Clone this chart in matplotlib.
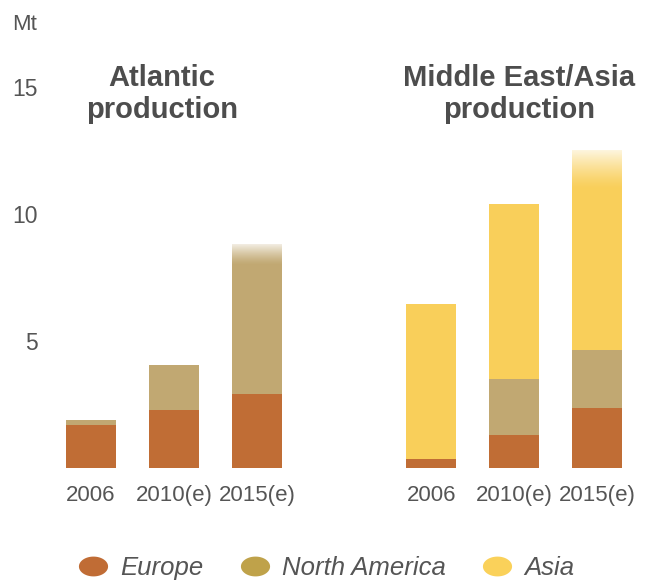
import numpy as np
import matplotlib
matplotlib.use("Agg")
import matplotlib.pyplot as plt
from matplotlib.path import Path
from matplotlib.lines import Line2D
from matplotlib.colors import to_rgb

plt.rcParams['font.family'] = ['Liberation Sans', 'DejaVu Sans']

# production in Mt, Atlantic group then Middle East/Asia group
years = ['2006', '2010(e)', '2015(e)', '2006', '2010(e)', '2015(e)']
europe = [1.7, 2.3, 2.9, 0.35, 1.3, 2.35]
north_america = [0.2, 1.75, 5.9, 0.0, 2.2, 2.3]
asia = [0.0, 0.0, 0.0, 6.1, 6.9, 7.85]
estimated_top = [False, False, True, False, False, True]

x = np.array([0, 1, 2, 4.1, 5.1, 6.1])
width = 0.6

c_eu = '#c06d35'
c_na = '#c1a872'
c_as = '#f9cf5a'
txt = '#555555'

fig = plt.figure(figsize=(6.53, 5.82), dpi=100)
ax = fig.add_axes([50 / 653, 114 / 582, 595 / 653, 428 / 582])

eu = np.array(europe)
na = np.array(north_america)
az = np.array(asia)
ax.bar(x, eu, width, color=c_eu)
ax.bar(x, na, width, bottom=eu, color=c_na)
ax.bar(x, az, width, bottom=eu + na, color=c_as)

# fade the top of the estimated bars to white
fade = {2: 0.8, 5: 1.5}
tops = eu + na + az
for i, est in enumerate(estimated_top):
    if not est:
        continue
    col = c_as if az[i] > 0 else c_na
    r, g, b = to_rgb(col)
    n = 64
    t = np.linspace(0, 1, n)[:, None]
    k = 0.8 * t ** 1.3
    grad = np.zeros((n, 1, 3))
    grad[..., 0] = r + (1 - r) * k
    grad[..., 1] = g + (1 - g) * k
    grad[..., 2] = b + (1 - b) * k
    ax.imshow(grad, extent=(x[i] - width / 2, x[i] + width / 2, tops[i] - fade[i], tops[i]),
              origin='lower', aspect='auto', interpolation='bilinear', zorder=3)

ax.set_xlim((50 - 91) / 83, (645 - 91) / 83)
ax.set_ylim(0, 428 / 25.4)
ax.set_xticks(x)
ax.set_xticklabels(years)
ax.set_yticks([5, 10, 15])
ax.tick_params(axis='x', length=0, pad=12, labelsize=16, labelcolor=txt)
ax.tick_params(axis='y', length=0, pad=9, labelsize=16.5, labelcolor=txt)
for s in ax.spines.values():
    s.set_visible(False)

fig.text(12 / 653, 1 - 24 / 582, 'Mt', fontsize=16, color=txt, va='center', ha='left')
fig.text(162 / 653, 1 - 94 / 582, 'Atlantic\nproduction', fontsize=21, fontweight='bold',
         color='#4d4d4d', ha='center', va='center', linespacing=1.2)
fig.text(519 / 653, 1 - 94 / 582, 'Middle East/Asia\nproduction', fontsize=21, fontweight='bold',
         color='#4d4d4d', ha='center', va='center', linespacing=1.2)

# elliptical legend markers
th = np.linspace(0, 2 * np.pi, 60)
ellipse = Path(np.column_stack([np.cos(th), 0.68 * np.sin(th)]), closed=True)
handles = [Line2D([], [], ls='none', marker=ellipse, markersize=21, markerfacecolor=c,
                  markeredgecolor='none') for c in ['#c06c35', '#bfa24a', '#fad15a']]
leg = fig.legend(handles, ['Europe', 'North America', 'Asia'], ncol=3, frameon=False,
                 loc='center', bbox_to_anchor=(326 / 653, 14 / 582),
                 prop={'size': 18.5, 'style': 'italic'}, handlelength=1.2, handletextpad=0.45,
                 columnspacing=1.4, borderpad=0)
for t in leg.get_texts():
    t.set_color(txt)

fig.savefig('out.png', dpi=100)
